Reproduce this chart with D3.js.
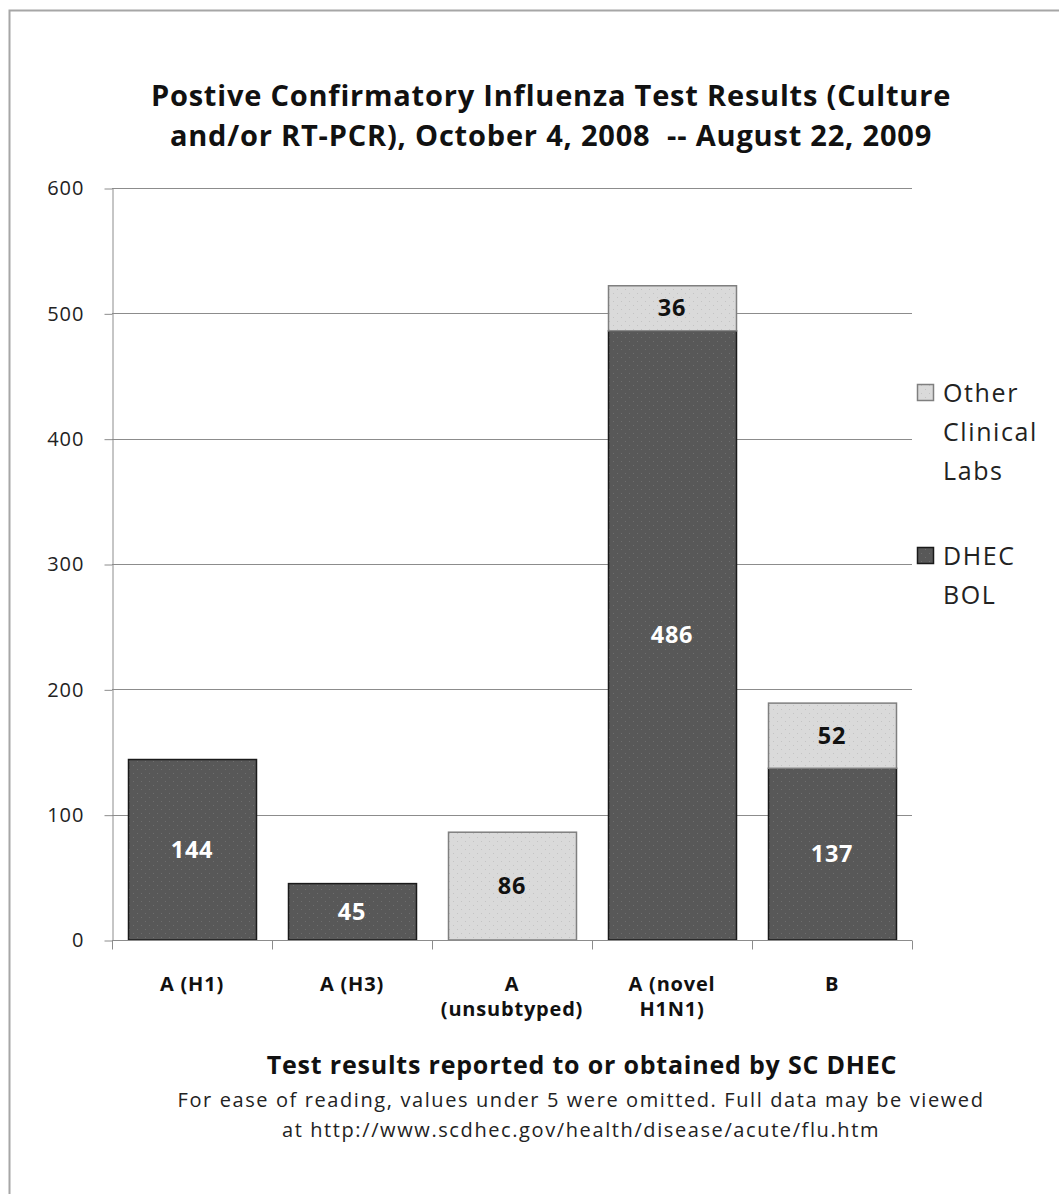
<!DOCTYPE html>
<html>
<head>
<meta charset="utf-8">
<script src="https://cdn.jsdelivr.net/npm/d3@7"></script>
<style>
  html, body { margin: 0; padding: 0; background: #fff; }
  svg text { font-family: "Open Sans", sans-serif; }
</style>
</head>
<body>
<svg id="chart" width="1059" height="1194"></svg>
<script>
// Influenza test results by subtype, stacked by reporting lab
const categories = [["A (H1)"], ["A (H3)"], ["A", "(unsubtyped)"], ["A (novel", "H1N1)"], ["B"]];
const dhecBol = [144, 45, 0, 486, 137];
const otherLabs = [0, 0, 86, 36, 52];
const yTicks = [0, 100, 200, 300, 400, 500, 600];
const seriesNames = [["Other", "Clinical", "Labs"], ["DHEC", "BOL"]];
const titleLines = ["Postive Confirmatory Influenza Test Results (Culture", "and/or RT-PCR), October 4, 2008  -- August 22, 2009"];
const footLines = ["For ease of reading, values under 5 were omitted. Full data may be viewed", "at http://www.scdhec.gov/health/disease/acute/flu.htm"];
const footTitle = "Test results reported to or obtained by SC DHEC";

const svg = d3.select("#chart");

// Dotted fills
const defs = svg.append("defs");
function dotPattern(id, bg, dot) {
  const p = defs.append("pattern").attr("id", id).attr("width", 8).attr("height", 8)
    .attr("patternUnits", "userSpaceOnUse");
  p.append("rect").attr("width", 8).attr("height", 8).attr("fill", bg);
  p.append("rect").attr("x", 1).attr("y", 1).attr("width", 1).attr("height", 1).attr("fill", dot);
  p.append("rect").attr("x", 5).attr("y", 5).attr("width", 1).attr("height", 1).attr("fill", dot);
}
dotPattern("dotDark", "#585858", "#6e6e6e");
dotPattern("dotLight", "#dadada", "#c4c4c4");

// Outer frame
svg.append("rect").attr("x", 9.5).attr("y", 10.5).attr("width", 1100).attr("height", 1300)
  .attr("fill", "none").attr("stroke", "#a6a6a6").attr("stroke-width", 2);

// Title
svg.append("g").selectAll("text").data(titleLines).join("text")
  .attr("x", 551).attr("y", (d, i) => 106 + i * 40)
  .attr("text-anchor", "middle").attr("font-size", 29).attr("font-weight", "bold")
  .attr("letter-spacing", 0.8)
  .attr("fill", "#111").style("white-space", "pre").text(d => d);

const plot = { left: 112, right: 912, top: 188, bottom: 940 };

const x = d3.scaleBand().domain(d3.range(categories.length))
  .range([plot.left, plot.right]).paddingInner(0.2).paddingOuter(0.1);
const y = d3.scaleLinear().domain([0, 600]).range([plot.bottom, plot.top]);

// Gridlines
svg.append("g").selectAll("line").data(yTicks.filter(t => t > 0)).join("line")
  .attr("x1", plot.left).attr("x2", plot.right)
  .attr("y1", d => Math.round(y(d)) + 0.5).attr("y2", d => Math.round(y(d)) + 0.5)
  .attr("stroke", "#8c8c8c").attr("stroke-width", 1);

// Y axis
const yAxis = svg.append("g").attr("transform", `translate(${plot.left + 0.5},0.5)`)
  .call(d3.axisLeft(y).tickValues(yTicks).tickSize(8).tickPadding(20).tickSizeOuter(0));
yAxis.select(".domain").attr("stroke", "#8c8c8c");
yAxis.selectAll(".tick line").attr("stroke", "#8c8c8c");
yAxis.selectAll(".tick text").attr("font-size", 20).attr("fill", "#222")
  .attr("letter-spacing", 1).style("font-family", "'Open Sans', sans-serif");

// Stacked bars
const stackData = categories.map((c, i) => ({ i, dhec: dhecBol[i], other: otherLabs[i] }));
const stack = d3.stack().keys(["dhec", "other"])(stackData);
const styles = {
  dhec: { fill: "url(#dotDark)", stroke: "#1a1a1a", text: "#fff" },
  other: { fill: "url(#dotLight)", stroke: "#7f7f7f", text: "#111" }
};
stack.forEach(layer => {
  const st = styles[layer.key];
  const g = svg.append("g");
  const segs = layer.filter(s => s[1] - s[0] > 0);
  g.selectAll("rect").data(segs).join("rect")
    .attr("x", s => Math.round(x(s.data.i)) + 0.5)
    .attr("y", s => y(s[1]))
    .attr("width", Math.round(x.bandwidth()))
    .attr("height", s => y(s[0]) - y(s[1]))
    .attr("fill", st.fill).attr("stroke", st.stroke).attr("stroke-width", 1.5);
  g.selectAll("text").data(segs.filter(s => s[1] - s[0] >= 5)).join("text")
    .attr("x", s => x(s.data.i) + x.bandwidth() / 2)
    .attr("y", s => (y(s[0]) + y(s[1])) / 2 + 8)
    .attr("text-anchor", "middle").attr("font-size", 23.5).attr("font-weight", "bold")
    .attr("letter-spacing", 0.8)
    .attr("fill", st.text).text(s => s[1] - s[0]);
});

// X axis
const xAxisG = svg.append("g").attr("transform", `translate(0,${plot.bottom + 0.5})`);
xAxisG.append("line").attr("x1", plot.left).attr("x2", plot.right)
  .attr("stroke", "#8c8c8c");
const step = (plot.right - plot.left) / categories.length;
xAxisG.selectAll("line.tk").data(d3.range(categories.length + 1)).join("line")
  .attr("class", "tk")
  .attr("x1", d => Math.round(plot.left + d * step) + 0.5)
  .attr("x2", d => Math.round(plot.left + d * step) + 0.5)
  .attr("y1", 0).attr("y2", 9).attr("stroke", "#8c8c8c");
xAxisG.selectAll("text").data(categories).join("text")
  .attr("text-anchor", "middle").attr("font-size", 20).attr("font-weight", "bold").attr("fill", "#111")
  .attr("letter-spacing", 0.8)
  .attr("transform", (d, i) => `translate(${x(i) + x.bandwidth() / 2},50)`)
  .each(function (lines) {
    d3.select(this).selectAll("tspan").data(lines).join("tspan")
      .attr("x", 0).attr("dy", (l, j) => j === 0 ? 0 : 25).text(l => l);
  });

// Legend
const legend = svg.append("g");
const legendItems = [
  { names: seriesNames[0], fill: "url(#dotLight)", stroke: "#7f7f7f", y: 393 },
  { names: seriesNames[1], fill: "url(#dotDark)", stroke: "#1a1a1a", y: 556 }
];
legendItems.forEach(it => {
  legend.append("rect").attr("x", 917.5).attr("y", it.y - 8.5).attr("width", 16).attr("height", 16)
    .attr("fill", it.fill).attr("stroke", it.stroke).attr("stroke-width", 1.5);
  legend.append("text").attr("x", 943).attr("y", it.y + 9).attr("font-size", 25).attr("fill", "#222")
    .attr("letter-spacing", 1.6)
    .selectAll("tspan").data(it.names).join("tspan")
    .attr("x", 943).attr("dy", (n, j) => j === 0 ? 0 : 39).text(n => n);
});

// Footnotes
svg.append("text").attr("x", 582).attr("y", 1074).attr("text-anchor", "middle")
  .attr("font-size", 25).attr("font-weight", "bold").attr("letter-spacing", 0.8)
  .attr("fill", "#111").text(footTitle);
svg.append("g").selectAll("text").data(footLines).join("text")
  .attr("x", 581).attr("y", (d, i) => 1107 + i * 30).attr("text-anchor", "middle")
  .attr("font-size", 20).attr("letter-spacing", 1.6).attr("fill", "#222").text(d => d);
</script>
</body>
</html>
